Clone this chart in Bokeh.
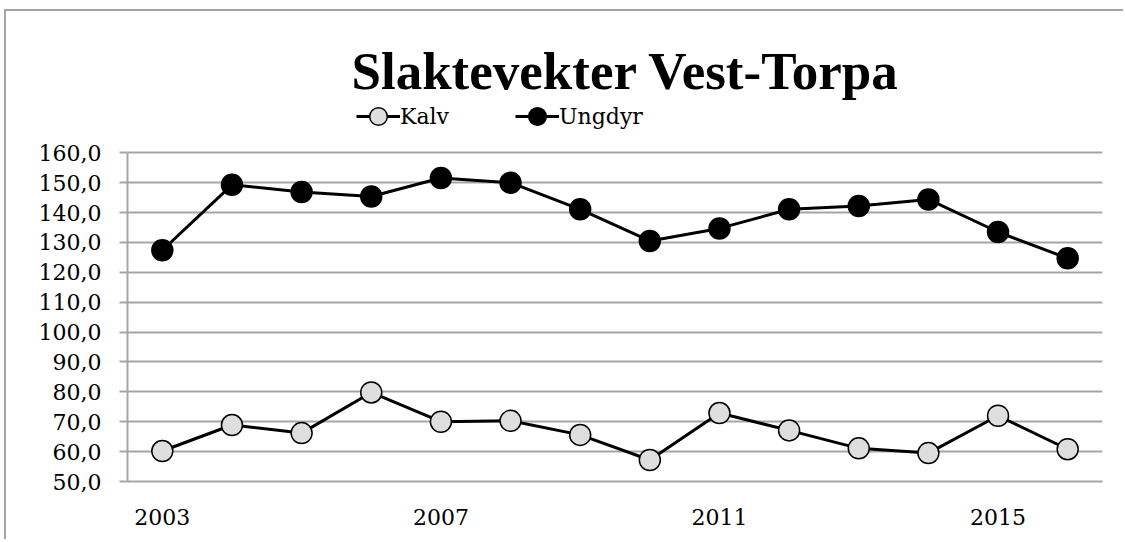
from bokeh.plotting import figure
from bokeh.models import Range1d, FixedTicker, Legend, LegendItem, Label
from bokeh.embed import file_html
from bokeh.resources import INLINE

# ---- data ----
years = [2003, 2004, 2005, 2006, 2007, 2008, 2009, 2010, 2011, 2012, 2013, 2014, 2015, 2016]
kalv = [60.2, 68.9, 66.2, 79.8, 70.0, 70.3, 65.6, 57.2, 72.9, 67.1, 61.1, 59.5, 72.0, 60.8]
ungdyr = [127.4, 149.3, 146.9, 145.4, 151.6, 150.0, 141.1, 130.5, 134.7, 141.1, 142.2, 144.4, 133.5, 124.7]
x_tick_years = [2003, 2007, 2011, 2015]
y_ticks = [50, 60, 70, 80, 90, 100, 110, 120, 130, 140, 150, 160]
title_text = "Slaktevekter Vest-Torpa"
series_names = ["Kalv", "Ungdyr"]

GRID = "#a5a5a5"
FONT = "DejaVu Serif"

W, H = 1119, 530
p = figure(width=W, height=H, output_backend="svg", toolbar_location=None,
           title_location=None,
           x_range=Range1d(2002.5, 2016.5), y_range=Range1d(50, 207.3),
           min_border_left=121, min_border_right=23, min_border_top=0, min_border_bottom=60)
p.styles = {"margin-left": "4px", "margin-top": "9px",
            "border-left": "2px solid #a5a5a5", "border-top": "2px solid #a5a5a5"}
p.outline_line_color = None
p.background_fill_color = "white"
p.border_fill_color = "white"

p.xgrid.visible = False
p.ygrid.grid_line_color = GRID
p.ygrid.grid_line_width = 2
p.ygrid.ticker = FixedTicker(ticks=y_ticks)

p.yaxis.ticker = FixedTicker(ticks=y_ticks)
p.yaxis.bounds = (y_ticks[0], y_ticks[-1])
p.yaxis.major_label_overrides = {t: f"{t:.1f}".replace(".", ",") for t in y_ticks}
p.yaxis.axis_line_color = GRID
p.yaxis.axis_line_width = 2
p.yaxis.major_tick_line_color = GRID
p.yaxis.major_tick_line_width = 2
p.yaxis.major_tick_out = 8
p.yaxis.major_tick_in = 0
p.yaxis.minor_tick_line_color = None
p.yaxis.major_label_standoff = 18
p.yaxis.major_label_text_font = FONT
p.yaxis.major_label_text_font_size = "22px"
p.yaxis.major_label_text_color = "black"

p.xaxis.ticker = FixedTicker(ticks=x_tick_years)
p.xaxis.axis_line_color = GRID
p.xaxis.axis_line_width = 2
p.xaxis.major_tick_line_color = None
p.xaxis.major_tick_out = 0
p.xaxis.major_tick_in = 0
p.xaxis.minor_tick_line_color = None
p.xaxis.major_label_standoff = 27
p.xaxis.major_label_text_font = FONT
p.xaxis.major_label_text_font_size = "22px"
p.xaxis.major_label_text_color = "black"

l1 = p.line(years, kalv, line_color="black", line_width=3)
s1 = p.scatter(years, kalv, size=21, marker="circle", fill_color="#dedede",
               line_color="black", line_width=1.5)
l2 = p.line(years, ungdyr, line_color="black", line_width=3)
s2 = p.scatter(years, ungdyr, size=21, marker="circle", fill_color="black",
               line_color="black", line_width=1.5)

legend = Legend(items=[LegendItem(label=series_names[0], renderers=[l1, s1]),
                       LegendItem(label=series_names[1], renderers=[l2, s2])],
                location=(229, 343), orientation="horizontal",
                background_fill_alpha=0, border_line_color=None,
                padding=0, margin=0, spacing=66, label_standoff=0,
                glyph_width=44, glyph_height=44,
                label_text_font=FONT, label_text_font_size="22px",
                label_text_color="black")
p.add_layout(legend)

title = Label(x=498, y=411, x_units="screen", y_units="screen", text=title_text,
              text_align="center", text_baseline="alphabetic",
              text_font="Liberation Serif", text_font_style="bold", text_font_size="53px",
              text_color="black")
p.add_layout(title)

open("out.html", "w").write(file_html(p, INLINE))
